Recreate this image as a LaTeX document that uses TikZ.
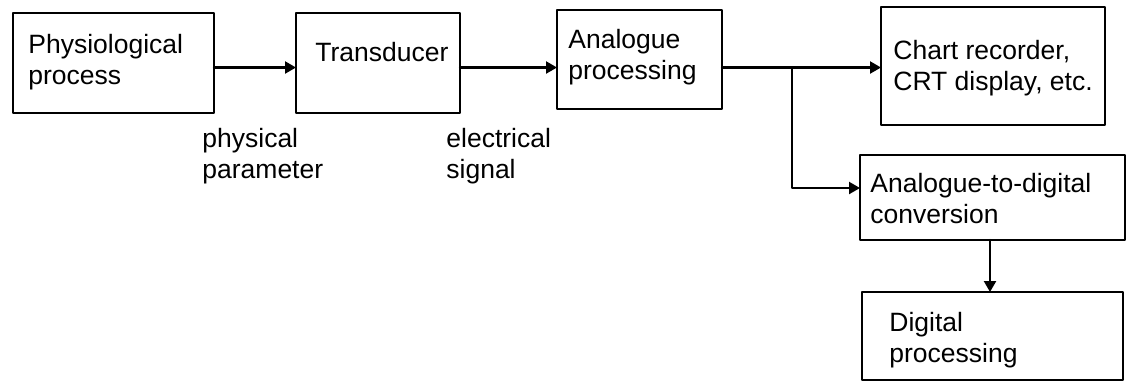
\documentclass[tikz,border=0pt]{standalone}
\usepackage{fontspec}
\setmainfont{Liberation Sans}
\usetikzlibrary{arrows.meta}

\begin{document}
\begin{tikzpicture}
% TikZ block diagram, laid out on the pixel grid of the source figure
\def\pxsz{0.5pt}
\providecommand{\blkLineWidth}{1.35pt}
\providecommand{\arrLineWidth}{1.15pt}
\providecommand{\blkFont}{\fontsize{13.25pt}{15.25pt}\selectfont}
\begin{scope}[x=\pxsz, y=-\pxsz, line cap=round, line join=round,
  blk/.style={draw=black, line width=\blkLineWidth, inner sep=0pt, outer sep=0pt},
  txt/.style={anchor=north west, inner sep=0pt, align=left, font=\blkFont},
  arr/.style={draw=black, line width=\arrLineWidth, -{Triangle[length=5.5pt,width=6pt]}}]
  % Page frame
  \useasboundingbox (0,0) rectangle (1130,382);
  % Blocks
  \node[blk, minimum width=100.5pt, minimum height=50pt] (proc) at (113.5,63) {};
  \node[blk, minimum width=82pt, minimum height=50pt] (trans) at (378,63) {};
  \node[blk, minimum width=82.5pt, minimum height=49.5pt] (analog) at (639.5,59.5) {};
  \node[blk, minimum width=112pt, minimum height=59pt] (chart) at (993,66) {};
  \node[blk, minimum width=132.5pt, minimum height=42.5pt] (adc) at (992.5,197.5) {};
  \node[blk, minimum width=130.5pt, minimum height=44pt] (dsp) at (992.5,336) {};
  % Block texts
  \node[txt] (proctxt) at ([xshift=7.5pt,yshift=-10.5pt]proc.north west) {Physiological\\process};
  \node[txt] (transtxt) at ([xshift=9.5pt,yshift=-14.5pt]trans.north west) {Transducer};
  \node[txt] (analogtxt) at ([xshift=5.5pt,yshift=-9.5pt]analog.north west) {Analogue\\processing};
  \node[txt] (charttxt) at ([xshift=6pt,yshift=-16.5pt]chart.north west) {Chart recorder,\\CRT display, etc.};
  \node[txt] (adctxt) at ([xshift=5pt,yshift=-9pt]adc.north west) {Analogue-to-digital\\conversion};
  \node[txt] (dsptxt) at ([xshift=13.5pt,yshift=-10pt]dsp.north west) {Digital\\processing};
  % Signal labels
  \node[txt] (paramlbl) at ([xshift=-6pt,yshift=-7.5pt]proc.south east) {physical\\parameter};
  \node[txt] (signallbl) at ([xshift=-7pt,yshift=-7.5pt]trans.south east) {electrical\\signal};
  % Connectors
  \coordinate (row) at (0,67.5);
  \coordinate (split) at (792,67.5);
  \coordinate (tap) at (0,188);
  \coordinate (drop) at (990,0);
  \draw[arr] (proc.east |- row) -- (trans.west |- row);
  \draw[arr] (trans.east |- row) -- (analog.west |- row);
  \draw[arr] (analog.east |- row) -- (chart.west |- row);
  \draw[arr] (split) |- (adc.west |- tap);
  \draw[arr] (adc.south -| drop) -- (dsp.north -| drop);
\end{scope}
\end{tikzpicture}
\end{document}
